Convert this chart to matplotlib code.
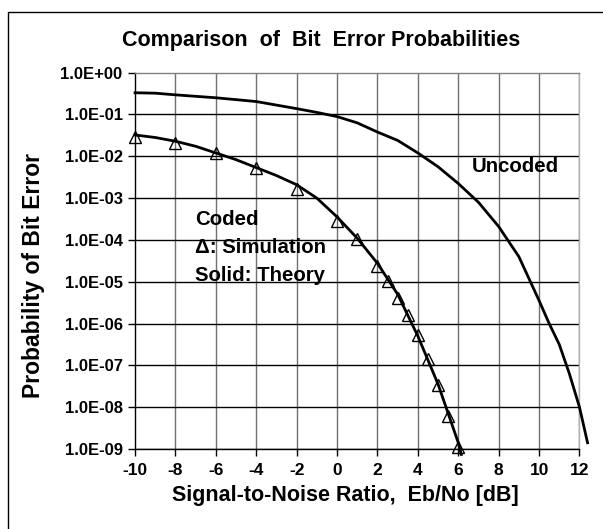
import numpy as np
import matplotlib
matplotlib.use("Agg")
from matplotlib import pyplot as plt
from matplotlib.ticker import FixedLocator, FuncFormatter, NullLocator
from matplotlib.patches import Rectangle

plt.rcParams['font.family'] = ['Liberation Sans', 'DejaVu Sans']
plt.rcParams['font.weight'] = 'bold'

# uncoded curve (Eb/No in dB, log10 of bit error probability)
uncoded_snr = [-10, -9, -8, -6, -4, -2, -1, 0, 1, 2, 3, 4, 5, 6, 7, 8, 9, 10, 10.5, 11, 11.5, 12, 12.4]
uncoded_log = [-0.48, -0.49, -0.53, -0.6, -0.69, -0.86, -0.95, -1.05, -1.2, -1.42, -1.62, -1.92,
               -2.25, -2.65, -3.1, -3.68, -4.4, -5.45, -6.0, -6.5, -7.2, -8.0, -8.85]

# coded, theory
theory_snr = [-10, -9, -8, -7, -6, -5, -4, -3, -2, -1, 0, 1, 2, 3, 4, 5, 6, 6.15]
theory_log = [-1.49, -1.55, -1.64, -1.76, -1.92, -2.08, -2.27, -2.46, -2.68, -3.0, -3.45,
              -3.96, -4.56, -5.3, -6.3, -7.45, -8.85, -9.13]

# coded, simulation
sim_snr = [-10, -8, -6, -4, -2, 0, 1, 2, 2.5, 3, 3.5, 4, 4.5, 5, 5.5, 6]
sim_log = [-1.54, -1.69, -1.93, -2.29, -2.78, -3.54, -3.98, -4.62, -4.98, -5.38, -5.8,
           -6.28, -6.84, -7.48, -8.2, -8.95]

xticks = list(range(-10, 13, 2))
ydecades = list(range(0, -10, -1))

fig = plt.figure(figsize=(6.03, 5.29), dpi=100)
ax = fig.add_axes([0.224, 0.1512, 0.737, 0.7114])

ax.plot(uncoded_snr, 10.0 ** np.array(uncoded_log), color='black', lw=2.0, clip_on=False, zorder=3)
ax.plot(theory_snr, 10.0 ** np.array(theory_log), color='black', lw=2.0, clip_on=False, zorder=3)
ax.plot(sim_snr, 10.0 ** np.array(sim_log), ls='none', marker='^', ms=9, mfc='none',
        mec='black', mew=1.0, clip_on=False, zorder=4)

ax.set_yscale('log')
ax.set_xlim(-10, 12)
ax.set_ylim(1e-9, 1)
ax.xaxis.set_major_locator(FixedLocator(xticks))
ax.xaxis.set_major_formatter(FuncFormatter(lambda v, p: '%d' % v))
ax.yaxis.set_major_locator(FixedLocator([10.0 ** d for d in ydecades]))
ax.yaxis.set_major_formatter(FuncFormatter(lambda v, p: '%.1E' % v))
ax.yaxis.set_minor_locator(NullLocator())

for x in xticks[1:]:
    ax.axvline(x, color='#707070', lw=1.0, zorder=1)
for d in ydecades[1:]:
    ax.axhline(10.0 ** d, color='black', lw=1.0, zorder=1)

ax.spines['left'].set_color('black')
ax.spines['bottom'].set_color('black')
ax.spines['top'].set_color('#808080')
ax.spines['right'].set_color('#b0b0b0')
for s in ax.spines.values():
    s.set_linewidth(1.0)

ax.tick_params(axis='both', direction='out', length=5, width=1, color='black')
ax.tick_params(axis='x', pad=5, labelsize=12.5)
ax.tick_params(axis='y', pad=4, labelsize=12)

ax.text(8.84, 10 ** -2.25, 'Uncoded', fontsize=14.7, ha='center', va='center')
ax.text(-7.05, 10 ** -3.52, 'Coded', fontsize=14.7, ha='left', va='center')
ax.text(-7.05, 10 ** -4.18, '\u0394: Simulation', fontsize=14.7, ha='left', va='center')
ax.text(-7.05, 10 ** -4.84, 'Solid: Theory', fontsize=14.7, ha='left', va='center')

fig.text(321 / 603, 1 - 40 / 529, 'Comparison  of  Bit  Error Probabilities', fontsize=15.5,
         ha='center', va='center')
fig.text(345 / 603, 1 - 496 / 529, 'Signal-to-Noise Ratio,  Eb/No [dB]', fontsize=15.5,
         ha='center', va='center')
fig.text(34 / 603, 1 - 275 / 529, 'Probability of Bit Error', fontsize=16.5, rotation=90,
         ha='center', va='center')

fig.patches.append(Rectangle((8.3 / 603, -0.1), 1.2, 1 - 11.7 / 529 + 0.1, transform=fig.transFigure,
                             fill=False, edgecolor='black', lw=1.0))

fig.savefig('out.png', dpi=100)
